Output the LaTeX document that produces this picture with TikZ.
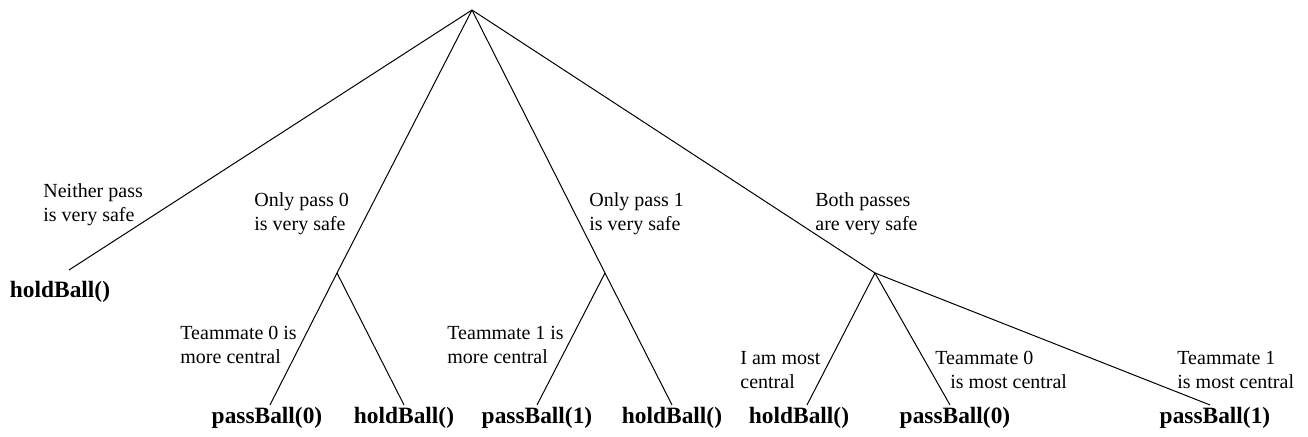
\documentclass[tikz,border=0pt]{standalone}
\usepackage{fontspec}
\setmainfont{LiberationSerif}[Extension=.ttf,UprightFont=*-Regular,BoldFont=*-Bold]
\usepackage{tikz}
\usetikzlibrary{positioning,calc}
\tikzset{
	branch/.style={draw=black,line width=0.5pt},
	leaf/.style={inner sep=1pt,font=\fontsize{11.7}{14}\selectfont\bfseries},
	cond/.style={inner sep=0pt,anchor=west,align=left,font=\fontsize{10}{12}\selectfont}
}

\begin{document}
\begin{tikzpicture}[x=0.5pt,y=-0.5pt]
	\useasboundingbox (0,0) rectangle (1308,437);
	
	\coordinate (Root) at (472,10);
	\coordinate (B0) at (337,273);
	\coordinate (B1) at (605,273);
	\coordinate (B2) at (875,273);
	
	% leaves
	\node[leaf] (Hold0) at (60,292) {holdBall()};
	\node[leaf] (Pass0) at (267,418) {passBall(0)};
	\node[leaf] (Hold1) at (404,418) {holdBall()};
	\node[leaf] (Pass1) at (537,418) {passBall(1)};
	\node[leaf] (Hold2) at (672,418) {holdBall()};
	\node[leaf] (Hold3) at (799,418) {holdBall()};
	\node[leaf] (Pass2) at (955,418) {passBall(0)};
	\node[leaf] (Pass3) at (1215,418) {passBall(1)};
	
	% conditions
	\node[cond] (Neither) at (43,205) {Neither pass\\is very safe};
	\node[cond] (OnlyZero) at (254,214) {Only pass 0\\is very safe};
	\node[cond] (OnlyOne) at (589,214) {Only pass 1\\is very safe};
	\node[cond] (Both) at (815,214) {Both passes\\are very safe};
	\node[cond] (MateZero) at (180,345) {Teammate 0 is\\more central};
	\node[cond] (MateOne) at (447,345) {Teammate 1 is\\more central};
	\node[cond] (Me) at (740,370) {I am most\\central};
	\node[cond] (MostZero) at (935,370) {Teammate 0\\\hspace*{7.5pt}is most central};
	\node[cond] (MostOne) at (1177,370) {Teammate 1\\is most central};
	
	\draw[branch] (Root) -- ([xshift=4.5pt,yshift=4.5pt]Hold0.north);
	\draw[branch] (Root) -- (B0) -- ([xshift=1.5pt]Pass0.north);
	\draw[branch] (B0) -- (Hold1.north);
	\draw[branch] (Root) -- (B1) -- (Hold2.north);
	\draw[branch] (B1) -- (Pass1.north);
	\draw[branch] (Root) -- (B2);
	\draw[branch] (B2) -- ([xshift=4pt]Hold3.north);
	\draw[branch] (B2) -- ([xshift=-2.5pt]Pass2.north);
	\draw[branch] (B2) -- ([xshift=-2.5pt]Pass3.north);
	
\end{tikzpicture}
\end{document}
